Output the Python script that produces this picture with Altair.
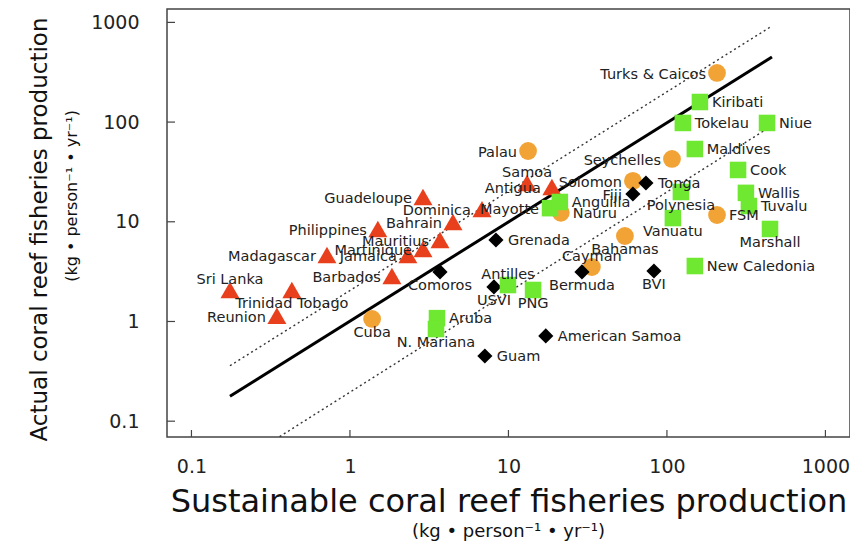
import altair as alt
import pandas as pd

# ---------------- data ----------------
names = [
    "Sri Lanka", "Trinidad Tobago", "Reunion", "Madagascar", "Philippines", "Barbados",
    "Jamaica", "Martinique", "Mauritius", "Bahrain", "Guadeloupe", "Dominica", "Samoa", "Antigua",
    "Turks & Caicos", "Palau", "Seychelles", "Solomon", "Nauru", "FSM", "Bahamas", "Cayman", "Cuba",
    "Tonga", "Fiji", "Grenada", "Comoros", "USVI", "Bermuda", "BVI", "American Samoa", "Guam",
    "Kiribati", "Tokelau", "Niue", "Maldives", "Cook", "Wallis", "Tuvalu", "Marshall",
    "New Caledonia", "Polynesia", "Vanuatu", "Mayotte", "Anguilla", "Antilles", "PNG", "Aruba", "N. Mariana",
]
sustainable = [
    0.175, 0.43, 0.346, 0.716, 1.50, 1.84,
    2.32, 2.89, 3.70, 4.47, 2.89, 6.81, 13.1, 18.8,
    207, 13.3, 107.6, 61, 21.4, 207, 54.3, 33.6, 1.38,
    73.7, 61, 8.34, 3.70, 8.1, 29.1, 82.8, 17.2, 7.1,
    161.5, 126, 428, 150, 281, 315, 329, 447,
    150, 122.5, 109, 18.3, 21.1, 9.93, 14.3, 3.54, 3.49,
]
actual = [
    2.07, 2.07, 1.14, 4.64, 8.47, 2.86,
    4.64, 5.33, 6.57, 9.95, 17.7, 13.4, 24.5, 22.3,
    311, 51.3, 42.7, 25.7, 12.3, 11.7, 7.2, 3.52, 1.06,
    24.5, 19.0, 6.57, 3.14, 2.22, 3.14, 3.21, 0.716, 0.451,
    159, 98, 98, 53.7, 33.1, 19.5, 14.4, 8.47,
    3.6, 19.9, 10.9, 13.7, 15.8, 2.32, 2.07, 1.08, 0.84,
]
groups = (["tri"] * 14) + (["circ"] * 9) + (["dia"] * 9) + (["sq"] * 17)
label_side = [
    "T", "B", "L", "L", "L", "L",
    "L", "L", "L", "L", "L", "L", "T", "L",
    "L", "L", "L", "L", "R", "R", "B", "T", "B",
    "R", "L", "R", "B", "B", "B", "B", "R", "R",
    "R", "R", "R", "R", "R", "R", "R", "B",
    "R", "B", "B", "L", "R", "T", "B", "R", "B",
]

line_id = ["solid", "solid", "upper", "upper", "lower", "lower"]
line_x = [0.175, 460, 0.175, 460, 0.36, 440]
line_y = [0.178, 450, 0.36, 920, 0.07, 88]

tick_values = [0.1, 1, 10, 100, 1000]

group_domain = ["tri", "circ", "sq", "dia"]
group_shapes = ["triangle-up", "circle", "square", "diamond"]
group_colors = ["#E8401C", "#F2A335", "#6EE830", "#000000"]
group_sizes = [360, 230, 215, 140]

x_title = "Sustainable coral reef fisheries production"
y_title = "Actual coral reef fisheries production"
unit_text = "(kg \u2022 person\u207b\u00b9 \u2022 yr\u207b\u00b9)"

# ---------------- chart ----------------
FONT = "DejaVu Sans"
W, H = 683, 428

df = pd.DataFrame({"name": names, "x": sustainable, "y": actual,
                   "group": groups, "pos": label_side})
lines_df = pd.DataFrame({"id": line_id, "x": line_x, "y": line_y})
ticks_df = pd.DataFrame({"v": tick_values})

xscale = alt.Scale(type="log", domain=[0.0701, 1429], nice=False)
yscale = alt.Scale(type="log", domain=[0.0694, 1362], nice=False)

xaxis = alt.Axis(values=tick_values, format="~g", grid=False, domain=False, ticks=False,
                 tickSize=0, labelPadding=29, labelBaseline="middle", labelFlush=False,
                 labelOverlap=False, labelFont=FONT, labelFontSize=19, labelColor="#222",
                 title=x_title, titleFont=FONT, titleFontSize=32, titleFontWeight="normal",
                 titleColor="#111", titleY=64, titleBaseline="middle")
yaxis = alt.Axis(values=tick_values, format="~g", grid=False, domain=False, ticks=False,
                 tickSize=0, labelPadding=28, labelFlush=False, labelOverlap=False,
                 labelFont=FONT, labelFontSize=19, labelColor="#222",
                 title=y_title, titleFont=FONT, titleFontSize=23, titleFontWeight="normal",
                 titleColor="#111", titleAngle=270, titleX=-128, titleY=220,
                 titleAlign="center", titleBaseline="middle")

X = alt.X("x:Q", scale=xscale, axis=xaxis)
Y = alt.Y("y:Q", scale=yscale, axis=yaxis)

solid = (alt.Chart(lines_df).transform_filter("datum.id == 'solid'")
         .mark_line(color="black", strokeWidth=3, clip=True)
         .encode(x=X, y=Y, detail="id:N"))
dotted = (alt.Chart(lines_df).transform_filter("datum.id != 'solid'")
          .mark_line(color="#333", strokeWidth=1.4, strokeDash=[2, 3], clip=True)
          .encode(x=X, y=Y, detail="id:N"))

yticks = (alt.Chart(ticks_df).mark_rule(color="#444", strokeWidth=1.2)
          .encode(y=alt.Y("v:Q", scale=yscale, axis=yaxis), x=alt.value(0), x2=alt.value(8)))
xticks = (alt.Chart(ticks_df).mark_rule(color="#444", strokeWidth=1.2)
          .encode(x=alt.X("v:Q", scale=xscale, axis=xaxis), y=alt.value(H), y2=alt.value(H - 7)))

points = (alt.Chart(df).mark_point(filled=True, opacity=1, strokeWidth=0)
          .encode(x=X, y=Y,
                  shape=alt.Shape("group:N", scale=alt.Scale(domain=group_domain, range=group_shapes), legend=None),
                  color=alt.Color("group:N", scale=alt.Scale(domain=group_domain, range=group_colors), legend=None),
                  size=alt.Size("group:N", scale=alt.Scale(domain=group_domain, range=group_sizes), legend=None)))

label_specs = {
    "L": dict(align="right", dx=-11, dy=2),
    "R": dict(align="left", dx=12, dy=1),
    "T": dict(align="center", dx=0, dy=-10),
    "B": dict(align="center", dx=0, dy=14),
}
labels = []
for side, spec in label_specs.items():
    labels.append(
        alt.Chart(df).transform_filter(f"datum.pos == '{side}'")
        .mark_text(baseline="middle", font=FONT, fontSize=14.5, color="#222", **spec)
        .encode(x=X, y=Y, text="name:N")
    )

xsub = (alt.Chart(pd.DataFrame({"t": [unit_text]}))
        .mark_text(font=FONT, fontSize=18, color="#111", align="center", baseline="middle")
        .encode(text="t:N", x=alt.value(W / 2), y=alt.value(523)))
ysub = (alt.Chart(pd.DataFrame({"t": [unit_text]}))
        .mark_text(font=FONT, fontSize=16, color="#111", align="center", baseline="middle", angle=270)
        .encode(text="t:N", x=alt.value(-95), y=alt.value(187)))

chart = (alt.layer(solid, dotted, yticks, xticks, points, *labels, xsub, ysub)
         .properties(width=W, height=H,
                     autosize=alt.AutoSizeParams(type="none"),
                     padding={"left": 159, "top": 1, "right": 0, "bottom": 107},
                     background="white")
         .configure_view(stroke="#444", strokeWidth=1.5))

chart.save("out.html", embed_options={"renderer": "svg", "actions": False})
